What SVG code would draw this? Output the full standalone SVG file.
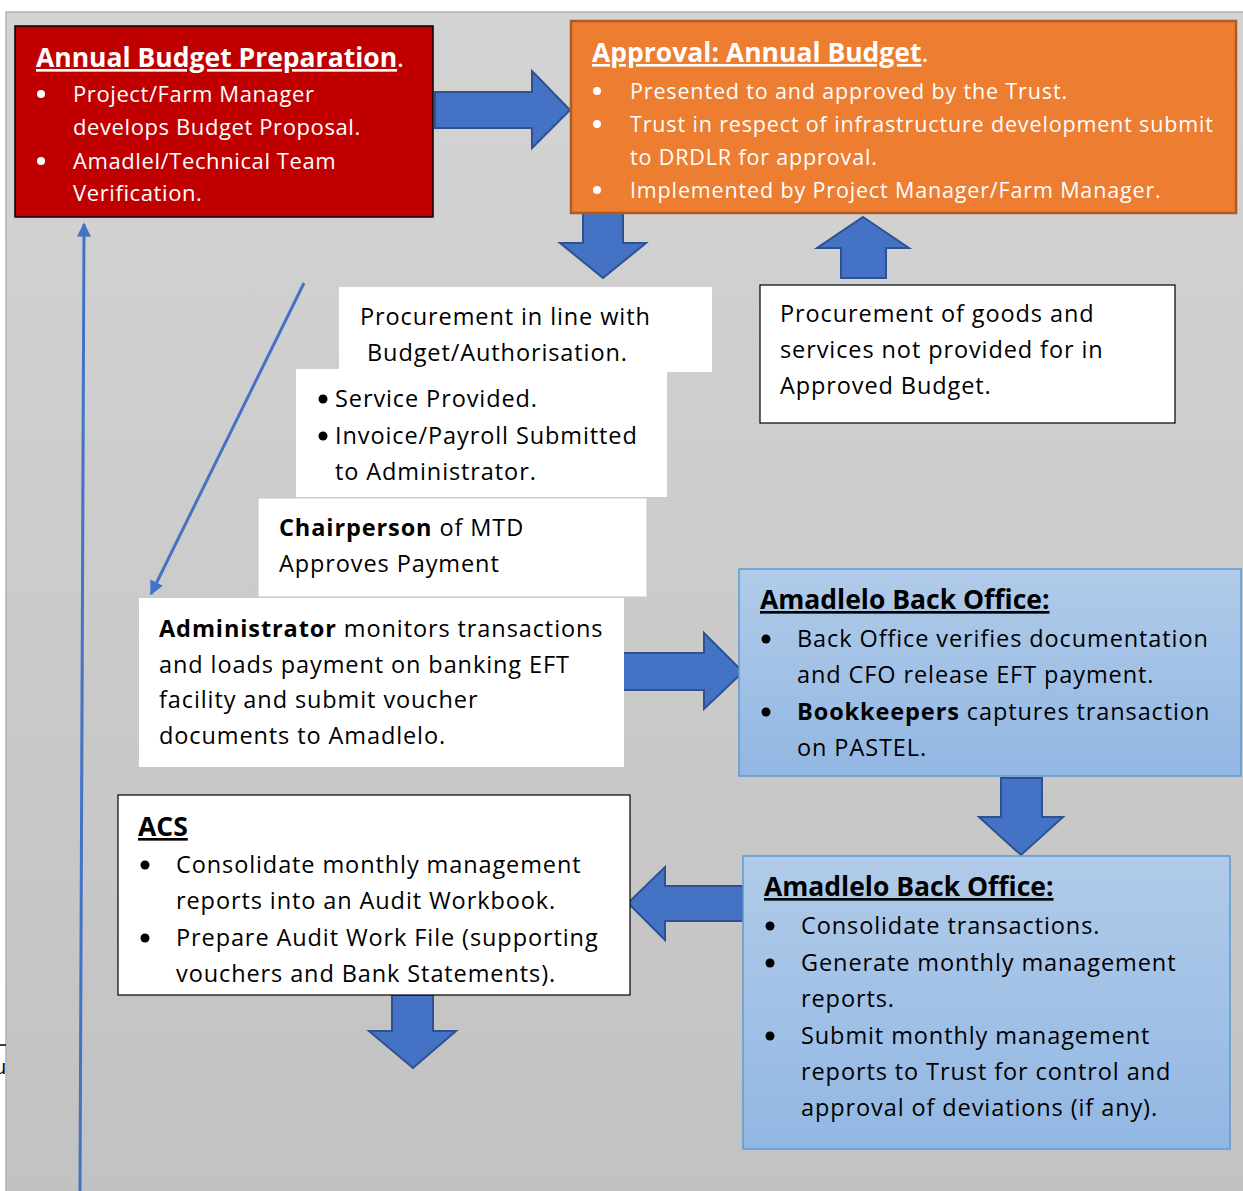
<svg xmlns="http://www.w3.org/2000/svg" width="1243" height="1191" viewBox="0 0 1243 1191">
  <defs>
    <linearGradient id="panelGrad" x1="0" y1="0" x2="0" y2="1">
      <stop offset="0" stop-color="#d4d4d4"/>
      <stop offset="1" stop-color="#c2c2c2"/>
    </linearGradient>
    <linearGradient id="blueGrad" x1="0" y1="0" x2="0" y2="1">
      <stop offset="0" stop-color="#b1cbe9"/>
      <stop offset="1" stop-color="#92b7e3"/>
    </linearGradient>
    <marker id="triBig" viewBox="0 0 10 10" refX="9" refY="5" markerWidth="16" markerHeight="14" orient="auto" markerUnits="userSpaceOnUse">
      <path d="M0,0 L10,5 L0,10 z" fill="#4472c4"/>
    </marker>
  </defs>
  <style>
    text { font-family: "Open Sans", "Noto Sans", sans-serif; }
    .w { fill: #ffffff; }
    .k { fill: #000000; }
    .t-red { font-size: 22px; letter-spacing: 0.6px; }
    .t-org { font-size: 21.5px; letter-spacing: 0.85px; }
    .t-body { font-size: 23.5px; letter-spacing: 0.9px; }
    .t-title { font-size: 26.5px; }
    .title { font-weight: bold; text-decoration: underline; }
    .b { font-weight: bold; }
    .blk { fill: #4472c4; stroke: #2f528f; stroke-width: 2; stroke-linejoin: miter; }
    .line { stroke: #4472c4; stroke-width: 3; fill: none; }
  </style>

  <!-- page background and grey canvas -->
  <rect x="0" y="0" width="1243" height="1191" fill="#ffffff"/>
  <rect x="6" y="12" width="1240" height="1182" fill="url(#panelGrad)" stroke="#b3b3b3" stroke-width="1.5"/>
  <line x1="0" y1="1045" x2="6" y2="1045" stroke="#000" stroke-width="1.5"/>
  <text x="-6" y="1074" class="k" font-size="20">u</text>

  <!-- connectors -->
  <g id="connectors">
    <line class="line" x1="304" y1="283" x2="151" y2="594" marker-end="url(#triBig)"/>
    <line class="line" x1="80" y1="1191" x2="84" y2="224" marker-end="url(#triBig)"/>
    <!-- block arrows -->
    <path class="blk" d="M435,92 H532 V71 L570,110 L532,148 V128 H435 Z"/>
    <path class="blk" d="M583,211 H623 V243 H646 L603,278 L560,243 H583 Z"/>
    <path class="blk" d="M863,217 L909,248 H886 V278 H841 V248 H817 Z"/>
    <path class="blk" d="M622,653 H704 V633 L743,672 L704,709 V690 H622 Z"/>
    <path class="blk" d="M1001,778 H1042 V817 H1063 L1021,855 L979,817 H1001 Z"/>
    <path class="blk" d="M743,886 H665 V867 L628,903 L665,940 V921 H743 Z"/>
    <path class="blk" d="M392,995 H433 V1031 H456 L413,1068 L369,1031 H392 Z"/>
  </g>

  <!-- Annual Budget Preparation -->
  <g id="node-budget-prep">
    <rect x="15" y="26" width="418" height="191" fill="#c00000" stroke="#000" stroke-width="1.5"/>
    <text x="36" y="67" class="w t-title"><tspan class="title">Annual Budget Preparation</tspan>.</text>
    <circle cx="41" cy="94" r="4" fill="#fff"/>
    <circle cx="41" cy="161" r="4" fill="#fff"/>
    <text class="w t-red">
      <tspan x="73" y="102">Project/Farm Manager</tspan>
      <tspan x="73" y="135">develops Budget Proposal.</tspan>
      <tspan x="73" y="169">Amadlel/Technical Team</tspan>
      <tspan x="73" y="201">Verification.</tspan>
    </text>
  </g>

  <!-- Approval: Annual Budget -->
  <g id="node-approval">
    <rect x="571" y="21" width="665" height="192" fill="#ed7d31" stroke="#ae5a21" stroke-width="2.5"/>
    <text x="592" y="62" class="w t-title"><tspan class="title">Approval: Annual Budget</tspan>.</text>
    <circle cx="597" cy="91" r="4" fill="#fff"/>
    <circle cx="597" cy="124" r="4" fill="#fff"/>
    <circle cx="597" cy="190" r="4" fill="#fff"/>
    <text class="w t-org">
      <tspan x="630" y="99">Presented to and approved by the Trust.</tspan>
      <tspan x="630" y="132">Trust in respect of infrastructure development submit</tspan>
      <tspan x="630" y="165">to DRDLR for approval.</tspan>
      <tspan x="630" y="198">Implemented by Project Manager/Farm Manager.</tspan>
    </text>
  </g>

  <!-- Procurement in line with budget -->
  <g id="node-procurement-budget">
    <rect x="339" y="287" width="373" height="85" fill="#ffffff"/>
    <text class="k t-body">
      <tspan x="360" y="325">Procurement in line with</tspan>
      <tspan x="367" y="361">Budget/Authorisation.</tspan>
    </text>
  </g>

  <!-- Service provided / invoice -->
  <g id="node-service">
    <rect x="296" y="369" width="371" height="128" fill="#ffffff"/>
    <circle cx="323" cy="399" r="4.5" fill="#000"/>
    <circle cx="323" cy="436" r="4.5" fill="#000"/>
    <text class="k t-body">
      <tspan x="335" y="407">Service Provided.</tspan>
      <tspan x="335" y="444">Invoice/Payroll Submitted</tspan>
      <tspan x="335" y="480">to Administrator.</tspan>
    </text>
  </g>

  <!-- Chairperson approval -->
  <g id="node-chairperson">
    <rect x="258" y="498" width="389" height="99" fill="#ffffff" stroke="#c8c8c8" stroke-width="1"/>
    <text class="k t-body">
      <tspan x="279" y="536"><tspan class="b">Chairperson</tspan> of MTD</tspan>
      <tspan x="279" y="572">Approves Payment</tspan>
    </text>
  </g>

  <!-- Administrator -->
  <g id="node-administrator">
    <rect x="139" y="598" width="485" height="169" fill="#ffffff"/>
    <text class="k t-body">
      <tspan x="159" y="637"><tspan class="b">Administrator</tspan> monitors transactions</tspan>
      <tspan x="159" y="673">and loads payment on banking EFT</tspan>
      <tspan x="159" y="708">facility and submit voucher</tspan>
      <tspan x="159" y="744">documents to Amadlelo.</tspan>
    </text>
  </g>

  <!-- Procurement outside budget -->
  <g id="node-procurement-extra">
    <rect x="760" y="285" width="415" height="138" fill="#ffffff" stroke="#000" stroke-width="1.2"/>
    <text class="k t-body">
      <tspan x="780" y="322">Procurement of goods and</tspan>
      <tspan x="780" y="358">services not provided for in</tspan>
      <tspan x="780" y="394">Approved Budget.</tspan>
    </text>
  </g>

  <!-- Amadlelo Back Office: payments -->
  <g id="node-backoffice-payments">
    <rect x="739" y="569" width="502" height="207" fill="url(#blueGrad)" stroke="#5b9bd5" stroke-width="1.5"/>
    <text x="760" y="609" class="k title t-title">Amadlelo Back Office:</text>
    <circle cx="766" cy="639" r="4.5" fill="#000"/>
    <circle cx="766" cy="712" r="4.5" fill="#000"/>
    <text class="k t-body">
      <tspan x="797" y="647">Back Office verifies documentation</tspan>
      <tspan x="797" y="683">and CFO release EFT payment.</tspan>
      <tspan x="797" y="720"><tspan class="b">Bookkeepers</tspan> captures transaction</tspan>
      <tspan x="797" y="756">on PASTEL.</tspan>
    </text>
  </g>

  <!-- Amadlelo Back Office: reporting -->
  <g id="node-backoffice-reports">
    <rect x="743" y="856" width="487" height="293" fill="url(#blueGrad)" stroke="#5b9bd5" stroke-width="1.5"/>
    <text x="764" y="896" class="k title t-title">Amadlelo Back Office:</text>
    <circle cx="770" cy="926" r="4.5" fill="#000"/>
    <circle cx="770" cy="963" r="4.5" fill="#000"/>
    <circle cx="770" cy="1036" r="4.5" fill="#000"/>
    <text class="k t-body">
      <tspan x="801" y="934">Consolidate transactions.</tspan>
      <tspan x="801" y="971">Generate monthly management</tspan>
      <tspan x="801" y="1007">reports.</tspan>
      <tspan x="801" y="1044">Submit monthly management</tspan>
      <tspan x="801" y="1080">reports to Trust for control and</tspan>
      <tspan x="801" y="1116">approval of deviations (if any).</tspan>
    </text>
  </g>

  <!-- ACS -->
  <g id="node-acs">
    <rect x="118" y="795" width="512" height="200" fill="#ffffff" stroke="#000" stroke-width="1.2"/>
    <text x="138" y="836" class="k title t-title">ACS</text>
    <circle cx="145" cy="865" r="4.5" fill="#000"/>
    <circle cx="145" cy="938" r="4.5" fill="#000"/>
    <text class="k t-body">
      <tspan x="176" y="873">Consolidate monthly management</tspan>
      <tspan x="176" y="909">reports into an Audit Workbook.</tspan>
      <tspan x="176" y="946">Prepare Audit Work File (supporting</tspan>
      <tspan x="176" y="982">vouchers and Bank Statements).</tspan>
    </text>
  </g>
</svg>
